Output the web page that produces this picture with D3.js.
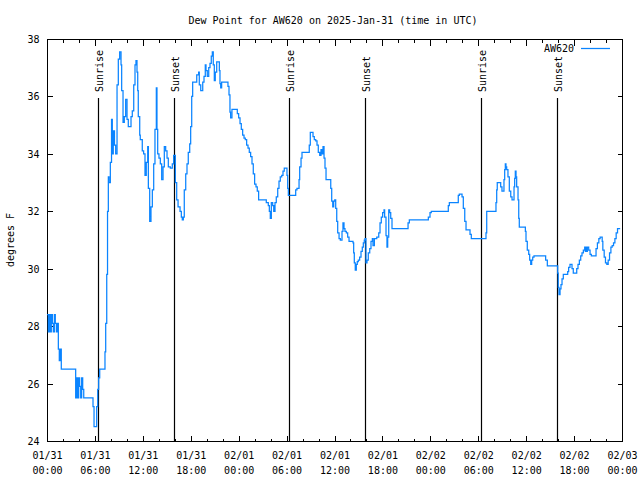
<!DOCTYPE html>
<html><head><meta charset="utf-8">
<script src="https://cdn.jsdelivr.net/npm/d3@7/dist/d3.min.js"></script>
<style>
body{margin:0;background:#fff}
text{font-family:"DejaVu Sans Mono","Liberation Mono",monospace;font-size:10px;fill:#000}
</style>
</head><body>
<svg id="chart" width="640" height="480"></svg>
<script>
// Hours since 2025-01-31 00:00 UTC
const hours = [0,0.17,0.29,0.42,0.54,0.67,0.79,0.92,1.04,1.17,1.29,1.42,1.54,1.67,1.79,3.5,3.59,3.72,3.84,3.97,4.09,4.22,4.34,4.47,4.6,5.68,5.76,5.89,6.1,6.22,6.35,6.47,6.6,7.18,7.26,7.35,7.48,7.58,7.68,7.76,7.93,8.08,8.18,8.3,8.45,8.6,8.77,8.93,9.1,9.27,9.35,9.52,9.68,9.85,10.02,10.18,10.43,10.52,10.68,10.86,11.02,11.14,11.27,11.36,11.43,11.61,11.68,11.93,12.1,12.27,12.43,12.61,12.69,12.86,13.02,13.19,13.36,13.52,13.69,13.77,13.86,14.02,14.19,14.36,14.53,14.69,14.86,15.03,15.19,15.44,15.69,15.86,
16.07,16.24,16.41,16.66,16.82,16.94,17.07,17.19,17.37,17.53,17.69,17.87,17.99,18.12,18.24,18.66,18.75,18.91,18.99,19.07,19.25,19.41,19.5,19.66,19.82,19.91,20.07,20.25,20.41,20.57,20.7,20.82,20.95,21.07,21.25,21.5,21.58,21.66,21.75,21.87,22.5,22.66,22.79,22.91,22.99,23.16,23.67,23.83,24.0,24.17,24.33,24.5,24.67,24.83,25.0,25.17,25.33,25.5,25.67,25.83,26.0,26.17,26.33,26.5,27.25,27.46,27.71,27.84,27.96,28.09,28.26,28.39,28.55,28.71,28.89,29.05,29.21,29.39,29.55,29.71,29.96,30.05,30.14,30.22,30.97,31.14,31.3,31.47,31.56,31.64,31.81,31.93,32.72,32.84,32.97,33.14,33.31,33.47,33.65,33.81,33.97,34.15,34.31,34.44,34.56,34.69,34.81,34.94,35.44,35.53,35.65,35.78,35.9,36.03,36.15,36.28,36.4,36.57,36.73,36.94,37.06,37.19,37.31,37.48,37.65,37.82,38.32,38.4,38.48,38.6,38.73,38.85,38.98,39.15,39.32,39.48,39.61,39.73,39.82,39.94,40.07,40.23,40.41,40.57,40.74,40.82,40.99,41.29,41.54,41.7,41.86,42.03,42.2,42.28,42.45,42.57,42.66,42.79,42.91,43.04,43.2,45.04,45.21,45.37,47.62,47.75,47.96,48.12,50.13,50.25,50.38,51.38,51.5,51.63,51.8,51.97,52.13,52.31,52.47,52.8,52.97,53.13,54.89,54.97,55.06,56.14,56.22,56.31,56.38,56.63,56.81,56.97,57.14,57.22,57.31,57.39,57.47,57.56,57.72,57.89,58.07,58.23,58.39,58.48,58.56,58.64,58.73,58.81,58.98,59.07,59.14,59.82,59.9,59.98,60.14,60.32,60.44,60.57,60.69,60.82,60.98,62.32,62.44,62.65,63.82,63.95,64.02,64.11,64.24,64.36,64.49,64.65,65.07,65.2,65.32,65.49,65.65,65.74,65.9,66.15,66.33,66.49,66.66,66.83,66.99,67.16,67.33,67.41,67.49,67.58,67.66,67.83,68.0,68.16,68.59,68.75,68.92,69.1,69.26,69.43,69.52,69.6,69.77,69.93,70.1,70.27,70.44,70.61,70.77,70.94,71.11,71.27,71.44,71.77];

const dewF = [28.4,27.8,28.4,27.8,28.4,28.1,27.8,28.4,28.1,27.8,28.1,27.2,26.8,27.2,26.5,26.5,25.5,26.2,25.5,26.2,25.9,25.5,26.2,25.8,25.5,25.5,25.2,24.5,24.5,25.2,25.8,26.2,26.5,26.5,27.1,28.1,29.8,32.0,33.2,33.0,33.7,35.2,34.0,34.8,34.3,34.0,36.4,37.3,37.55,37.1,36.2,35.1,35.3,35.9,35.2,34.95,34.95,35.3,35.5,36.4,37.1,37.25,36.85,36.2,35.3,34.65,34.5,34.1,34.0,33.25,33.7,34.25,32.8,31.65,32.15,32.75,33.65,34.85,36.3,34.85,34.0,33.85,33.65,33.1,33.55,34.25,34.1,33.85,33.55,33.5,33.65,33.95,
33.0,32.4,32.15,32.0,31.8,31.7,31.8,32.75,33.3,33.65,34.05,34.35,34.95,36.0,36.5,36.5,36.75,36.75,36.85,36.4,36.2,36.2,36.5,36.7,37.1,36.9,36.7,37.0,37.15,37.4,37.55,37.1,36.55,36.85,37.2,37.2,36.9,36.45,36.3,36.5,36.5,36.35,36.05,35.45,35.25,35.55,35.55,35.4,35.25,35.05,34.85,34.65,34.55,34.5,34.3,34.2,34.05,33.9,33.65,33.3,32.95,32.85,32.7,32.4,32.4,32.3,32.2,32.0,31.75,32.3,32.2,32.0,32.3,32.5,32.8,33.05,33.2,33.25,33.4,33.5,33.5,33.25,32.8,32.55,32.55,32.75,32.8,32.8,33.1,33.55,33.85,34.05,34.05,34.3,34.75,34.75,34.6,34.5,34.45,34.3,34.05,33.95,34.15,34.0,34.25,33.85,33.5,33.1,33.1,32.8,32.35,32.15,32.35,32.4,32.1,31.65,31.25,31.05,31.0,31.3,31.6,31.4,31.3,31.25,31.1,30.95,30.9,30.55,30.2,29.95,30.15,30.25,30.3,30.4,30.6,30.75,30.9,31.0,31.05,30.2,30.3,30.55,30.7,30.95,31.05,30.8,31.05,31.1,31.25,31.6,31.8,31.95,32.05,31.8,31.15,30.75,31.1,32.05,31.95,31.75,31.4,31.4,31.6,31.7,31.7,31.8,31.95,32.0,32.0,32.2,32.3,32.3,32.55,32.6,32.6,32.5,32.1,31.65,31.35,31.35,31.2,31.05,31.05,31.25,32.0,32.0,32.3,32.75,33.0,33.0,32.85,32.7,32.7,33.1,33.45,33.65,33.55,33.45,33.2,32.7,32.5,32.4,32.4,32.85,33.15,33.4,33.2,32.85,32.4,31.75,31.45,31.45,31.3,30.95,30.65,30.5,30.3,30.15,30.3,30.4,30.45,30.45,30.3,30.1,30.1,29.85,29.35,29.1,29.3,29.45,29.65,29.8,29.8,29.9,30.05,30.15,30.15,30.0,29.85,29.85,30.0,30.15,30.3,30.45,30.55,30.65,30.75,30.6,30.75,30.6,30.75,30.65,30.5,30.45,30.45,30.7,30.9,31.05,31.1,31.1,30.95,30.65,30.4,30.2,30.15,30.3,30.55,30.75,30.8,30.9,31.05,31.25,31.4,31.4];

const eventHours = [6.42, 15.84, 30.34, 39.86, 54.38, 63.9];
const eventLabels = ["Sunrise","Sunset","Sunrise","Sunset","Sunrise","Sunset"];
const yTicks = [24,26,28,30,32,34,36,38];
const xTickHours = [0,6,12,18,24,30,36,42,48,54,60,66,72];
const xTickDates = ["01/31","01/31","01/31","01/31","02/01","02/01","02/01","02/01","02/02","02/02","02/02","02/02","02/03"];
const xTickTimes = ["00:00","06:00","12:00","18:00","00:00","06:00","12:00","18:00","00:00","06:00","12:00","18:00","00:00"];
const seriesName = "AW620";
const titleText = "Dew Point for AW620 on 2025-Jan-31 (time in UTC)";
const yLabel = "degrees F";

const T0 = Date.UTC(2025,0,31,0,0);
const toDate = h => new Date(T0 + h*3600000);

const L=47, R=622, TOP=39, BOT=441;
const svg = d3.select("#chart");
const x = d3.scaleUtc().domain([toDate(0), toDate(72)]).range([L, R]);
const y = d3.scaleLinear().domain([24, 38]).range([BOT, TOP]);
const color = "#0a84ff";

const crisp = g => g.attr("shape-rendering","crispEdges");

// minor x ticks (2h)
const minor = d3.range(0, 73, 2).filter(h => h % 6 !== 0).map(toDate);
svg.append("g").attr("transform",`translate(0,${BOT+0.5})`)
  .call(d3.axisBottom(x).tickValues(minor).tickSize(-3).tickFormat(""))
  .call(g=>g.select(".domain").remove()).call(crisp);
svg.append("g").attr("transform",`translate(0,${TOP+0.5})`)
  .call(d3.axisTop(x).tickValues(minor).tickSize(-3).tickFormat(""))
  .call(g=>g.select(".domain").remove()).call(crisp);

// major x ticks
const gx = svg.append("g").attr("transform",`translate(0,${BOT+0.5})`)
  .call(d3.axisBottom(x).tickValues(xTickHours.map(toDate)).tickSize(-6).tickPadding(10))
  .call(g=>g.select(".domain").remove()).call(crisp);
gx.selectAll(".tick text").each(function(d,i){
  const t = d3.select(this).text(null).attr("dy",null).attr("y",17);
  t.append("tspan").attr("x",0).attr("y",17).text(xTickDates[i]);
  t.append("tspan").attr("x",0).attr("y",32).text(xTickTimes[i]);
});
gx.selectAll("text").attr("font-family",null).attr("font-size",null);
svg.append("g").attr("transform",`translate(0,${TOP+0.5})`)
  .call(d3.axisTop(x).tickValues(xTickHours.map(toDate)).tickSize(-6).tickFormat(""))
  .call(g=>g.select(".domain").remove()).call(crisp);

// y ticks
const gy = svg.append("g").attr("transform",`translate(${L+0.5},0)`)
  .call(d3.axisLeft(y).tickValues(yTicks).tickSize(-5).tickPadding(8))
  .call(g=>g.select(".domain").remove()).call(crisp);
gy.selectAll("text").attr("font-family",null).attr("font-size",null).attr("dy","0.35em");
svg.append("g").attr("transform",`translate(${R+0.5},0)`)
  .call(d3.axisRight(y).tickValues(yTicks).tickSize(-5).tickFormat(""))
  .call(g=>g.select(".domain").remove()).call(crisp);
svg.selectAll(".tick line").attr("stroke","#000");

// frame
svg.append("rect").attr("x",L+0.5).attr("y",TOP+0.5).attr("width",R-L).attr("height",BOT-TOP)
  .attr("fill","none").attr("stroke","#000").attr("shape-rendering","crispEdges");

// sunrise / sunset
eventHours.forEach((h,i)=>{
  const xe = Math.round(x(toDate(h)))+0.5;
  svg.append("line").attr("x1",xe).attr("x2",xe).attr("y1",98).attr("y2",BOT)
    .attr("stroke","#000").attr("stroke-width",1.2);
  svg.append("text").attr("transform",`translate(${xe+4},92) rotate(-90)`)
    .attr("text-anchor","start").text(eventLabels[i]);
});

// data line
const data = hours.map((h,i)=>({t:toDate(h), v:dewF[i]}));
svg.append("path").datum(data)
  .attr("fill","none").attr("stroke",color).attr("stroke-width",1.25)
  .attr("d", d3.line().x(d=>x(d.t)).y(d=>y(d.v)).curve(d3.curveStepAfter));

// legend
svg.append("text").attr("x",574).attr("y",52).attr("text-anchor","end").text(seriesName);
svg.append("line").attr("x1",581).attr("x2",610).attr("y1",48.5).attr("y2",48.5)
  .attr("stroke",color).attr("stroke-width",1.25);

// title and y label
svg.append("text").attr("x",333).attr("y",24).attr("text-anchor","middle").text(titleText);
svg.append("text").attr("transform","translate(14,240) rotate(-90)")
  .attr("text-anchor","middle").text(yLabel);
</script>
</body></html>
